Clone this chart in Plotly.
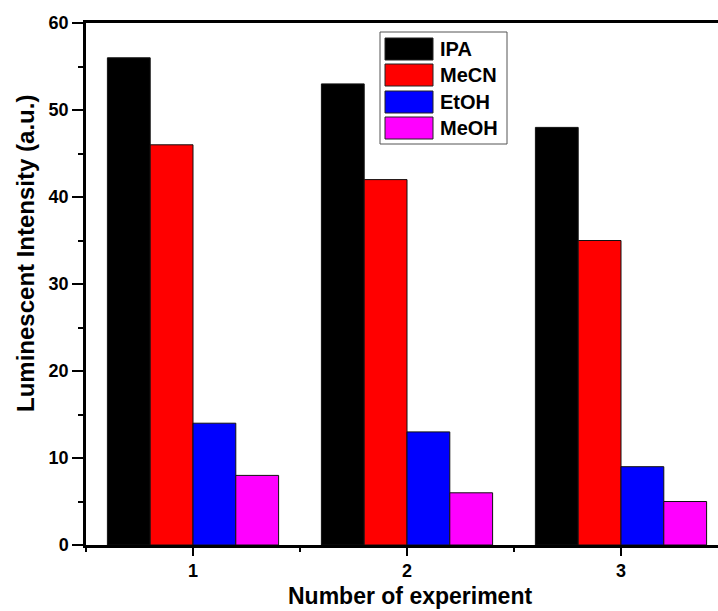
import plotly.graph_objects as go

experiments = [1, 2, 3]
series_names = ["IPA", "MeCN", "EtOH", "MeOH"]
ipa = [56, 53, 48]
mecn = [46, 42, 35]
etoh = [14, 13, 9]
meoh = [8, 6, 5]
series_values = [ipa, mecn, etoh, meoh]
colors = ["#000000", "#FF0000", "#0000FF", "#FF00FF"]

FONT = "Liberation Sans, Arial, sans-serif"

fig = go.Figure()
for name, vals, col in zip(series_names, series_values, colors):
    fig.add_trace(go.Bar(
        x=experiments, y=vals, name=name,
        marker=dict(color=col, line=dict(color="#111111", width=1)),
        showlegend=False,
    ))

# plot area geometry in pixels (for custom legend)
L, R, T, B = 86, 718, 23, 545
def px(x):
    return (x - L) / (R - L)
def py(y):
    return (B - y) / (B - T)

shapes = []
annotations = []
# legend box
shapes.append(dict(type="rect", xref="paper", yref="paper",
                   x0=px(380), x1=px(507), y0=py(144), y1=py(32),
                   line=dict(color="#555555", width=1), fillcolor="white", layer="above"))
row_centers = [49, 75, 102, 128]
for name, col, rc in zip(series_names, colors, row_centers):
    shapes.append(dict(type="rect", xref="paper", yref="paper",
                       x0=px(385), x1=px(433), y0=py(rc + 11), y1=py(rc - 11),
                       line=dict(color="#222222", width=1), fillcolor=col, layer="above"))
    annotations.append(dict(xref="paper", yref="paper", x=px(438), y=py(rc),
                            xanchor="left", yanchor="middle", showarrow=False,
                            text="<b>%s</b>" % name,
                            font=dict(family=FONT, size=20, color="black")))

# axis titles as annotations for exact placement
annotations.append(dict(xref="paper", yref="paper", x=px(410), y=py(596),
                        xanchor="center", yanchor="middle", showarrow=False,
                        text="<b>Number of experiment</b>",
                        font=dict(family=FONT, size=23, color="black")))
annotations.append(dict(xref="paper", yref="paper", x=px(26), y=py(254),
                        xanchor="center", yanchor="middle", showarrow=False,
                        textangle=-90,
                        text="<b>Luminescent Intensity (a.u.)</b>",
                        font=dict(family=FONT, size=24, color="black")))

fig.update_layout(
    width=718, height=611,
    margin=dict(l=L, r=718 - R, t=T, b=611 - B, pad=0),
    paper_bgcolor="white", plot_bgcolor="white",
    barmode="group", bargap=0.2, bargroupgap=0,
    font=dict(family=FONT, size=18, color="black"),
    shapes=shapes, annotations=annotations,
    xaxis=dict(
        range=[0.5, 0.5 + (R - L) / 214.0],
        tickmode="linear", tick0=1, dtick=1,
        ticks="outside", ticklen=8, tickwidth=2, tickcolor="black",
        minor=dict(ticks="outside", ticklen=4, tickwidth=2, tick0=0.5, dtick=0.5, tickcolor="black"),
        showline=True, linecolor="black", linewidth=2.5, mirror=True,
        showgrid=False, zeroline=False,
        tickfont=dict(family=FONT, size=18, color="black"),
        tickprefix="<b>", ticksuffix="</b>",
    ),
    yaxis=dict(
        range=[0, 60],
        tickmode="linear", tick0=0, dtick=10,
        ticks="outside", ticklen=11, tickwidth=2, tickcolor="black",
        minor=dict(ticks="outside", ticklen=5, tickwidth=2, dtick=5, tickcolor="black"),
        showline=True, linecolor="black", linewidth=2.5,
        showgrid=False, zeroline=False,
        tickfont=dict(family=FONT, size=18, color="black"),
        tickprefix="<b>", ticksuffix="</b>",
    ),
)

fig.write_html("out.html", config={"displayModeBar": False})
with open("out.html", "r", encoding="utf-8") as f:
    html = f.read()
html = html.replace("<head>", "<head><style>html,body{margin:0;padding:0;overflow:hidden;}</style>", 1)
with open("out.html", "w", encoding="utf-8") as f:
    f.write(html)
